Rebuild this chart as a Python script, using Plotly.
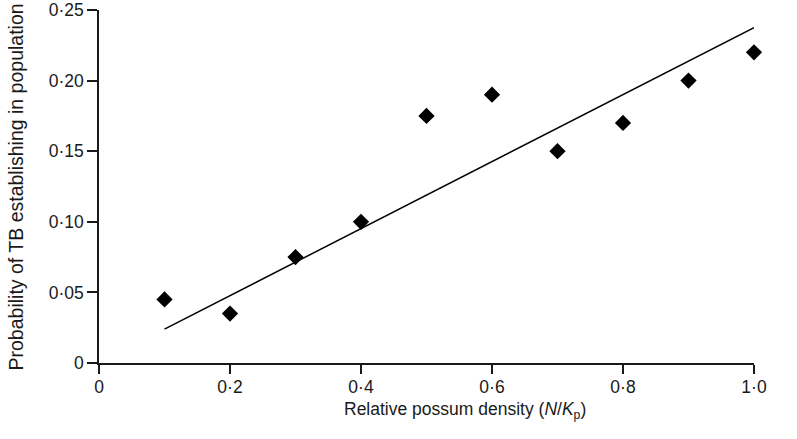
import plotly.graph_objects as go

density = [0.1, 0.2, 0.3, 0.4, 0.5, 0.6, 0.7, 0.8, 0.9, 1.0]
prob = [0.045, 0.035, 0.075, 0.100, 0.175, 0.190, 0.150, 0.170, 0.200, 0.220]
line_x = [0.1, 1.0]
line_y = [0.024, 0.2375]

x_ticks = [0, 0.2, 0.4, 0.6, 0.8, 1.0]
x_labels = ["0", "0·2", "0·4", "0·6", "0·8", "1·0"]
y_ticks = [0, 0.05, 0.10, 0.15, 0.20, 0.25]
y_labels = ["0", "0·05", "0·10", "0·15", "0·20", "0·25"]

fig = go.Figure()
fig.add_trace(go.Scatter(x=line_x, y=line_y, mode="lines",
                         line=dict(color="black", width=1.5), showlegend=False))
fig.add_trace(go.Scatter(x=density, y=prob, mode="markers",
                         marker=dict(symbol="diamond", size=12.5, color="black"),
                         showlegend=False, cliponaxis=False))

fam = "Liberation Sans, Arial, Helvetica, sans-serif"
fig.update_layout(
    width=797, height=439,
    margin=dict(l=98.5, r=42.5, t=10, b=75.5, autoexpand=False),
    paper_bgcolor="white", plot_bgcolor="white",
    font=dict(family=fam, size=17, color="#1a1a1a"),
    xaxis=dict(range=[0, 1.0], tickvals=x_ticks, ticktext=x_labels,
               showgrid=False, zeroline=False, showline=True, linecolor="#1a1a1a",
               linewidth=1.5, ticks="outside", ticklen=9, tickcolor="#1a1a1a",
               tickwidth=1.5, tickfont=dict(size=17.5), automargin=False,
               ticklabelstandoff=-2),
    yaxis=dict(range=[0, 0.25], tickvals=y_ticks, ticktext=y_labels,
               showgrid=False, zeroline=False, showline=True, linecolor="#1a1a1a",
               linewidth=1.5, ticks="outside", ticklen=10, tickcolor="#1a1a1a",
               tickwidth=1.5, tickfont=dict(size=17.5), automargin=False),
    annotations=[
        dict(text="Relative possum density (<i>N</i>/<i>K</i><sub>p</sub>)",
             xref="paper", yref="paper", x=0.5, y=0, yshift=-47, xshift=38,
             xanchor="center", yanchor="middle", showarrow=False,
             font=dict(size=17.5)),
        dict(text="Probability of TB establishing in population",
             xref="paper", yref="paper", x=0, y=0.5, xshift=-84, yshift=-1,
             xanchor="center", yanchor="middle", showarrow=False, textangle=-90,
             font=dict(size=19.5)),
    ],
)
fig.write_html("out.html", config={"displayModeBar": False},
               post_script="document.body.style.margin='0';")
